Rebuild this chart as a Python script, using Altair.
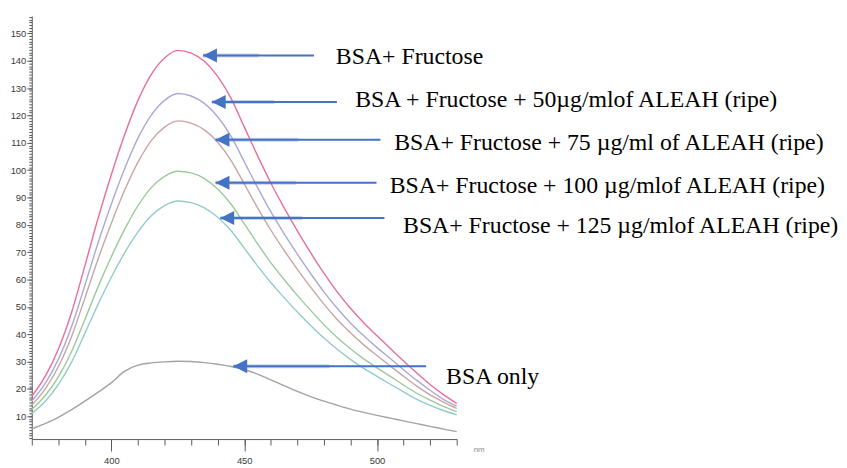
import altair as alt
import pandas as pd

# ---------------- data ----------------
wavelength = [370, 375, 380, 385, 390, 395, 400, 405, 410, 415, 420, 425, 430,
              435, 440, 445, 450, 455, 460, 465, 470, 475, 480, 485, 490, 495,
              500, 505, 510, 515, 520, 525, 530]

bsa_fructose = [17.3, 24.5, 34.5, 48.0, 65.0, 82.5, 98.5, 113.0, 125.5, 135.0, 141.0,
                143.8, 142.8, 139.8, 134.3, 126.3, 115.8, 105.3, 95.3, 86.3, 77.8,
                69.8, 62.3, 55.5, 49.5, 44.2, 39.4, 34.8, 30.2, 25.8, 21.6, 17.9, 14.7]
ripe_50 = [15.5, 21.9, 30.8, 42.8, 57.9, 73.5, 87.7, 100.6, 111.7, 120.1, 125.5,
           128.0, 127.1, 124.4, 119.5, 112.4, 103.1, 93.7, 84.8, 76.8, 69.3,
           62.2, 55.5, 49.5, 44.1, 39.4, 35.1, 31.1, 27.0, 23.1, 19.5, 16.2, 13.7]
ripe_75 = [14.0, 19.9, 28.1, 39.2, 53.2, 67.6, 80.7, 92.7, 102.9, 110.8, 115.7,
           118.0, 117.2, 114.7, 110.2, 103.6, 95.0, 86.3, 78.1, 70.7, 63.7,
           57.2, 51.0, 45.4, 40.5, 36.1, 32.2, 28.4, 24.6, 21.0, 17.8, 15.2, 12.9]
ripe_100 = [12.5, 17.5, 24.4, 33.7, 45.4, 57.4, 68.4, 78.4, 87.0, 93.6, 97.7,
            99.6, 99.0, 96.9, 93.1, 87.6, 80.4, 73.1, 66.2, 60.0, 54.2,
            48.7, 43.5, 38.8, 34.7, 31.0, 27.7, 24.6, 21.4, 18.4, 15.9, 13.6, 11.7]
ripe_125 = [11.0, 15.4, 21.6, 29.8, 40.3, 51.0, 60.9, 69.8, 77.4, 83.3, 87.0,
            88.7, 88.1, 86.2, 82.8, 77.9, 71.5, 65.0, 58.9, 53.4, 48.1,
            43.2, 38.6, 34.5, 30.8, 27.5, 24.6, 21.7, 18.9, 16.2, 14.0, 12.1, 10.5]
bsa_only = [5.4, 7.3, 9.6, 12.4, 15.5, 18.8, 22.3, 26.5, 28.7, 29.5, 29.9,
            30.1, 30.0, 29.6, 29.0, 28.2, 27.1, 25.4, 23.3, 21.2, 19.1,
            17.2, 15.5, 14.0, 12.6, 11.4, 10.3, 9.3, 8.3, 7.3, 6.3, 5.3, 4.4]

series_names = ["BSA+ Fructose", "BSA + Fructose + 50µg/mlof ALEAH (ripe)",
                "BSA+ Fructose + 75 µg/ml of ALEAH (ripe)",
                "BSA+ Fructose + 100 µg/mlof ALEAH (ripe)",
                "BSA+ Fructose + 125 µg/mlof ALEAH (ripe)", "BSA only"]
series_colors = ["#E86E9C", "#ABA8D8", "#C8A6A2", "#9CC99C", "#92CCC8", "#A3A3A3"]

# annotation labels and arrows (data coordinates)
ann_labels = series_names
ann_x = [484.5, 491.8, 506.5, 504.8, 509.8, 526.0]
ann_y = [138.8, 123.2, 107.3, 91.5, 76.9, 21.7]
arrow_tip_x = [434.5, 437.8, 439.2, 439.2, 441.0, 445.9]
arrow_tail_x = [476.3, 484.9, 501.3, 499.8, 502.8, 518.5]
arrow_y = [141.9, 124.9, 111.1, 95.4, 82.5, 28.3]

x_minor_ticks = list(range(370, 531, 10))
x_major_ticks = [400, 450, 500]
y_minor_ticks = list(range(2, 157))
y_major_ticks = list(range(10, 151, 10))

# ---------------- build ----------------
rows = []
for name, vals in zip(series_names, [bsa_fructose, ripe_50, ripe_75, ripe_100, ripe_125, bsa_only]):
    for w, v in zip(wavelength, vals):
        rows.append({"nm": w, "val": v, "series": name})
df = pd.DataFrame(rows)

ann = pd.DataFrame({"label": ann_labels, "x": ann_x, "y": ann_y})
arr = pd.DataFrame({"tip": arrow_tip_x, "tail": arrow_tail_x, "y": arrow_y})
arr["band_end"] = arr["tip"] + 0.5 * (arr["tail"] - arr["tip"])

xs = alt.Scale(domain=[370, 530], nice=False, zero=False)
ys = alt.Scale(domain=[1.65, 156.3], nice=False, zero=False)

axis_color = "#5a5a5a"
label_color = "#3a3a3a"

minor_x = alt.Axis(values=x_minor_ticks, labels=False, tickSize=6, tickColor=axis_color,
                   domainColor=axis_color, grid=False, title=None, orient="bottom")
major_x = alt.Axis(values=x_major_ticks, tickSize=12, tickColor=axis_color, domain=False,
                   labelFont="Liberation Sans", labelFontSize=9.5, labelColor=label_color,
                   labelPadding=5, grid=False, title=None, orient="bottom")
minor_y = alt.Axis(values=y_minor_ticks, labels=False, tickSize=3, tickColor=axis_color,
                   domainColor=axis_color, grid=False, title=None, orient="left")
major_y = alt.Axis(values=y_major_ticks, tickSize=5, tickColor=axis_color, domain=False,
                   labelFont="Liberation Sans", labelFontSize=9.5, labelColor=label_color,
                   labelPadding=1, grid=False, title=None, orient="left")

lines = alt.Chart(df).mark_line(interpolate="monotone", strokeWidth=1.4).encode(
    x=alt.X("nm:Q", scale=xs, axis=minor_x),
    y=alt.Y("val:Q", scale=ys, axis=minor_y),
    color=alt.Color("series:N", scale=alt.Scale(domain=series_names, range=series_colors), legend=None),
)

major = alt.Chart(df).mark_point(opacity=0).encode(
    x=alt.X("nm:Q", scale=xs, axis=major_x),
    y=alt.Y("val:Q", scale=ys, axis=major_y),
)

band = alt.Chart(arr).mark_rule(color="#4472C4", strokeWidth=4, opacity=0.3).encode(
    x=alt.X("tip:Q", scale=xs, axis=None), x2="band_end:Q",
    y=alt.Y("y:Q", scale=ys, axis=None),
)
shaft = alt.Chart(arr).mark_rule(color="#4472C4", strokeWidth=2).encode(
    x=alt.X("tip:Q", scale=xs, axis=None), x2="tail:Q",
    y=alt.Y("y:Q", scale=ys, axis=None),
)
heads = alt.Chart(arr).mark_point(shape="M0,0L2,-1L2,1Z", size=196, filled=True,
                                  color="#4472C4", opacity=1).encode(
    x=alt.X("tip:Q", scale=xs, axis=None),
    y=alt.Y("y:Q", scale=ys, axis=None),
)

texts = alt.Chart(ann).mark_text(align="left", baseline="alphabetic", font="Liberation Serif",
                                 fontSize=24, color="black").encode(
    x=alt.X("x:Q", scale=xs, axis=None),
    y=alt.Y("y:Q", scale=ys, axis=None),
    text="label:N",
)

unit = alt.Chart(pd.DataFrame({"x": [536.4], "y": [-2.4], "t": ["nm"]})).mark_text(
    align="left", baseline="middle", font="Liberation Sans", fontSize=8, color="#8a8a8a").encode(
    x=alt.X("x:Q", scale=xs, axis=None),
    y=alt.Y("y:Q", scale=ys, axis=None),
    text="t:N",
)

chart = alt.layer(lines, major, band, shaft, heads, texts, unit).resolve_axis(
    x="independent", y="independent"
).properties(
    width=429, height=427,
    padding={"left": 24, "top": 6, "right": 386, "bottom": 30},
    autosize="none",
).configure_view(stroke=None).configure_axis(grid=False)

chart.save("out.html", embed_options={"renderer": "svg", "actions": False})
